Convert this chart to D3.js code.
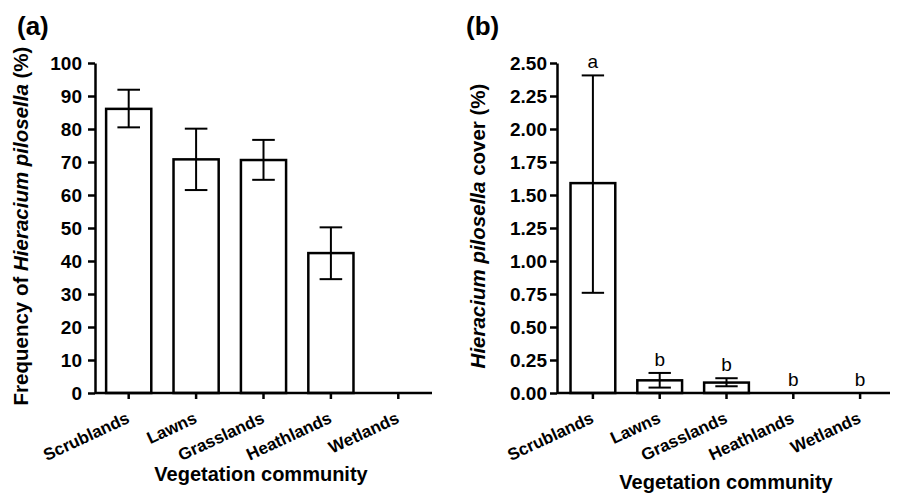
<!DOCTYPE html>
<html><head><meta charset="utf-8">
<script src="https://cdn.jsdelivr.net/npm/d3@7/dist/d3.min.js"></script>
<style>body{margin:0;background:#fff}svg{display:block}text{font-family:"Liberation Sans",Arial,sans-serif}</style>
</head><body><svg id="c" width="897" height="493"></svg>
<script>
const categories = ["Scrublands","Lawns","Grasslands","Heathlands","Wetlands"];
// Panel (a): frequency (%)
const freqMean  = [86.1, 70.8, 70.6, 42.4, 0];
const freqUpper = [91.9, 80.1, 76.7, 50.2, null];
const freqLower = [80.5, 61.5, 64.6, 34.5, null];
const freqTicks = [0,10,20,30,40,50,60,70,80,90,100];
// Panel (b): cover (%)
const coverMean  = [1.59, 0.096, 0.079, 0, 0];
const coverUpper = [2.406, 0.152, 0.112, null, null];
const coverLower = [0.759, 0.041, 0.051, null, null];
const coverLetters = ["a","b","b","b","b"];
const coverTicks = [0,0.25,0.5,0.75,1,1.25,1.5,1.75,2,2.25,2.5];

const svg = d3.select("#c");

function panel(opt){
  const g = svg.append("g");
  const x = d3.scaleBand().domain(categories).range(opt.xr).paddingInner(0.33).paddingOuter(0.165);
  const y = d3.scaleLinear().domain(opt.yd).range([393,63]);
  const bw = x.bandwidth();
  const cap = bw/2;
  // bars
  g.selectAll("rect.bar").data(categories).join("rect")
    .attr("x", d=>x(d)).attr("width", bw)
    .attr("y", (d,i)=>y(opt.mean[i])).attr("height",(d,i)=>y(0)-y(opt.mean[i]))
    .attr("fill","#fff").attr("stroke","#000").attr("stroke-width",2.5)
    .style("display",(d,i)=>opt.mean[i]>0?null:"none");
  // error bars
  const eb = categories.map((c,i)=>({c,u:opt.upper[i],l:opt.lower[i]})).filter(d=>d.u!=null);
  const cx = d=>x(d.c)+bw/2;
  g.selectAll("line.ev").data(eb).join("line")
    .attr("x1",cx).attr("x2",cx).attr("y1",d=>y(d.u)).attr("y2",d=>y(d.l))
    .attr("stroke","#000").attr("stroke-width",2);
  ["u","l"].forEach(k=>{
    g.selectAll("line.cap"+k).data(eb).join("line")
      .attr("x1",d=>cx(d)-cap/2).attr("x2",d=>cx(d)+cap/2)
      .attr("y1",d=>y(d[k])).attr("y2",d=>y(d[k]))
      .attr("stroke","#000").attr("stroke-width",2);
  });
  // letters
  if(opt.letters){
    g.selectAll("text.let").data(categories).join("text")
      .attr("x",d=>x(d)+bw/2)
      .attr("y",(d,i)=>y(opt.upper[i]!=null?opt.upper[i]:opt.mean[i])-7)
      .attr("text-anchor","middle").attr("font-size",19).text((d,i)=>opt.letters[i]);
  }
  // y axis
  const ya = g.append("g").attr("transform",`translate(${opt.yx},0)`)
    .call(d3.axisLeft(y).tickValues(opt.ticks).tickSize(7).tickSizeOuter(0).tickPadding(opt.pad).tickFormat(opt.fmt));
  ya.select(".domain").attr("stroke-width",2.5);
  ya.selectAll(".tick line").attr("stroke-width",2.5);
  ya.selectAll(".tick text").attr("font-size",19).attr("font-weight","bold").attr("font-family","Liberation Sans, Arial, sans-serif").attr("fill","#000");
  // x axis
  const xa = g.append("g").attr("transform","translate(0,393)")
    .call(d3.axisBottom(x).tickSize(6).tickSizeOuter(0));
  xa.select(".domain").remove();
  xa.append("line").attr("x1",opt.yx).attr("x2",opt.xend).attr("stroke","#000").attr("stroke-width",2.5);
  xa.selectAll(".tick line").attr("stroke-width",2.5);
  xa.selectAll(".tick text").attr("font-size",17).attr("font-weight","bold")
    .attr("font-family","Liberation Sans, Arial, sans-serif").attr("fill","#000")
    .attr("text-anchor","end").attr("dy",null).attr("y",null)
    .attr("transform","translate(2,29) rotate(-25)");
  // titles
  g.append("text").attr("x",opt.titleX).attr("y",opt.titleY).attr("text-anchor","middle")
    .attr("font-size",20).attr("font-weight","bold").text("Vegetation community");
  const yt = g.append("text").attr("transform",`translate(${opt.ytx},226) rotate(-90)`)
    .attr("text-anchor","middle").attr("font-size",20.5).attr("font-weight","bold");
  opt.ylab.forEach(p=>yt.append("tspan").attr("font-style",p[1]?"italic":null).text(p[0]));
  g.append("text").attr("x",opt.lx).attr("y",35).attr("font-size",26).attr("font-weight","bold").text(opt.label);
}

panel({xr:[95,432], yx:95, xend:432, yd:[0,100], mean:freqMean, upper:freqUpper, lower:freqLower,
  ticks:freqTicks, fmt:d3.format("d"), pad:6, titleX:261, titleY:481, ytx:28,
  ylab:[["Frequency of "],["Hieracium pilosella",1],[" (%)"]], lx:17, label:"(a)"});
panel({xr:[559.5,893.5], yx:557, xend:890, yd:[0,2.5], mean:coverMean, upper:coverUpper, lower:coverLower,
  letters:coverLetters, ticks:coverTicks, fmt:d3.format(".2f"), pad:3, titleX:726, titleY:489, ytx:485,
  ylab:[["Hieracium pilosella",1],[" cover (%)"]], lx:466, label:"(b)"});
</script></body></html>
